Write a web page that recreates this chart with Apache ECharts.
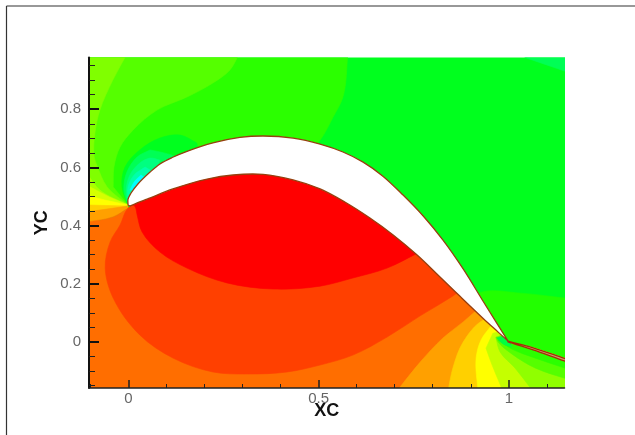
<!DOCTYPE html>
<html><head><meta charset="utf-8">
<style>html,body{margin:0;padding:0;background:#fff}#c{width:635px;height:435px}</style>
<script src="https://cdn.jsdelivr.net/npm/echarts@6/dist/echarts.min.js"></script>
</head><body><div id="c"></div>
<script>
const xLabels=[0,0.5,1];
const xMinor=[-0.1,0.1,0.2,0.3,0.4,0.6,0.7,0.8,0.9,1.1];
const yLabels=[0,0.2,0.4,0.6,0.8];
const yMinor=[-0.15,-0.1,-0.05,0.05,0.1,0.15,0.25,0.3,0.35,0.45,0.5,0.55,0.65,0.7,0.75,0.85,0.9,0.95];
const wakeUpper=[[0.998,0.003],[1.064,-0.020],[1.146,-0.056],[1.16,-0.062]];
const wakeClose=[[1.16,-0.071],[1.146,-0.065],[1.064,-0.027],[0.998,0]];
const airfoil=[[-0.001,0.471],[-0.001,0.491],[0.007,0.512],[0.025,0.543],[0.057,0.584],[0.083,0.612],[0.115,0.634],[0.154,0.655],[0.222,0.684],[0.293,0.703],[0.354,0.708],[0.433,0.701],[0.504,0.68],[0.564,0.653],[0.617,0.618],[0.669,0.57],[0.722,0.505],[0.775,0.433],[0.827,0.35],[0.88,0.251],[0.932,0.141],[0.998,0.003],[0.972,0.034],[0.932,0.082],[0.871,0.158],[0.811,0.234],[0.759,0.299],[0.696,0.368],[0.635,0.426],[0.569,0.481],[0.504,0.526],[0.433,0.557],[0.354,0.576],[0.275,0.574],[0.207,0.56],[0.117,0.526],[0.049,0.491],[0.023,0.478],[0.004,0.467]];
const base=[[-0.11,-0.17],[1.16,-0.17],[1.16,0.99],[-0.11,0.99]];
const cornerTR=[[1.042,0.99],[1.042,0.978],[1.1,0.952],[1.16,0.925],[1.16,0.99]];
const upperA=[[0.577,0.99],[0.564,0.842],[0.538,0.773],[0.504,0.694],[0.451,0.625],[0.188,0.608],[0.017,0.478],[-0.001,0.471],[-0.11,0.471],[-0.11,0.99]];
const upperB=[[0.291,0.99],[0.267,0.935],[0.222,0.89],[0.154,0.842],[0.075,0.797],[0.012,0.728],[-0.022,0.67],[-0.038,0.601],[-0.04,0.533],[-0.001,0.471],[-0.11,0.471],[-0.11,0.99]];
const upperC=[[-0.004,0.99],[-0.041,0.9],[-0.075,0.797],[-0.088,0.718],[-0.09,0.636],[-0.083,0.608],[-0.056,0.533],[-0.001,0.471],[-0.11,0.471],[-0.11,0.99]];
const dome1=[[-0.001,0.471],[-0.017,0.533],[-0.009,0.601],[0.03,0.66],[0.083,0.701],[0.136,0.711],[0.18,0.684],[0.188,0.625],[0.03,0.505]];
const dome2=[[-0.001,0.471],[-0.012,0.522],[-0.004,0.584],[0.023,0.636],[0.057,0.66],[0.096,0.649],[0.123,0.636],[0.136,0.608],[0.03,0.505]];
const dome3=[[-0.001,0.471],[-0.006,0.522],[0.004,0.574],[0.03,0.615],[0.057,0.632],[0.083,0.625],[0.03,0.505]];
const dome4=[[-0.001,0.488],[-0.001,0.533],[0.015,0.574],[0.044,0.601],[0.057,0.591],[0.017,0.505]];
const dome5=[[0.004,0.522],[0.015,0.55],[0.033,0.574],[0.044,0.564],[0.017,0.522]];
const fan1=[[-0.11,0.581],[-0.075,0.522],[-0.001,0.471],[-0.11,0.44]];
const fan2=[[-0.11,0.54],[-0.05,0.498],[-0.001,0.471],[-0.11,0.44]];
const fan3=[[-0.11,0.505],[-0.062,0.488],[-0.001,0.471],[-0.11,0.44]];
const fan4=[[-0.11,0.471],[-0.001,0.467],[-0.11,0.4]];
const fan5=[[-0.11,0.447],[-0.001,0.467],[-0.001,0.46],[-0.04,0.43],[-0.11,0.412]];
const orange=[[-0.11,0.412],[-0.04,0.43],[-0.001,0.46],[0.049,0.495],[0.207,0.575],[0.354,0.59],[0.504,0.54],[0.648,0.44],[0.759,0.32],[0.871,0.165],[0.932,0.09],[0.998,0.003],[0.998,-0.17],[-0.11,-0.17]];
const redOrange=[[-0.001,0.46],[-0.022,0.402],[-0.048,0.344],[-0.061,0.254],[-0.04,0.151],[0.03,0.024],[0.117,-0.055],[0.222,-0.103],[0.312,-0.11],[0.417,-0.103],[0.504,-0.079],[0.59,-0.045],[0.68,0.017],[0.767,0.09],[0.853,0.158],[0.871,0.175],[0.759,0.32],[0.504,0.54],[0.354,0.59],[0.207,0.575],[0.049,0.495]];
const red=[[0.018,0.464],[0.023,0.436],[0.036,0.378],[0.083,0.309],[0.154,0.254],[0.259,0.203],[0.38,0.182],[0.504,0.192],[0.59,0.22],[0.68,0.254],[0.761,0.306],[0.759,0.33],[0.504,0.54],[0.354,0.59],[0.207,0.575],[0.049,0.495],[0.01,0.475]];
const rightLower=[[0.9,0.15],[0.93,0.172],[1.03,0.168],[1.16,0.149],...wakeUpper.slice().reverse()];
const teA=[[0.705,-0.17],[0.767,-0.069],[0.827,0.014],[0.88,0.069],[0.916,0.11],[0.94,0.09],...wakeUpper,[1.16,-0.17]];
const teB=[[0.84,-0.17],[0.853,-0.089],[0.88,0],[0.932,0.075],[0.95,0.08],...wakeUpper,[1.16,-0.17]];
const teC=[[0.919,-0.17],[0.914,-0.055],[0.927,0.007],[0.953,0.055],[0.965,0.055],...wakeUpper,[1.16,-0.17]];
const teD=[[0.985,-0.17],[0.956,-0.079],[0.94,-0.021],[0.958,0.03],[0.975,0.035],...wakeUpper,[1.16,-0.17]];
const teE=[[1.064,-0.17],[1.016,-0.089],[0.977,-0.034],[0.966,0.014],[0.98,0.025],...wakeUpper,[1.16,-0.17]];
const teF=[[1.16,-0.13],[1.069,-0.089],[1.008,-0.041],[0.972,0],[0.966,0.017],[0.985,0.02],...wakeUpper];
const teG=[[1.16,-0.095],[1.069,-0.055],[1.008,-0.024],[0.972,0.007],[0.985,0.02],...wakeUpper];
const teH=[[0.969,0.014],[0.985,-0.007],[1.008,-0.017],[1.003,-0.003],[0.998,0.003],[0.985,0.02]];
const wake=[...wakeUpper,...wakeClose];

const layers=[
 [base,'#00ff1e'],[cornerTR,'#00ff55'],[upperA,'#2bff00'],[upperB,'#55ff00'],[upperC,'#80ff00'],
 [dome1,'#00ff1e'],[dome2,'#00ff55'],[dome3,'#00ff80'],[dome4,'#00ffaa'],[dome5,'#00ffff'],
 [fan1,'#aaff00'],[fan2,'#d5ff00'],[fan3,'#ffff00'],[fan4,'#ffd000'],[fan5,'#ffa000'],
 [orange,'#ff6e00'],[redOrange,'#ff4000'],[red,'#ff0000'],[rightLower,'#22ff00'],
 [teA,'#ffa000'],[teB,'#ffd000'],[teC,'#ffff00'],[teD,'#c5ff00'],[teE,'#90ff00'],[teF,'#55ff00'],[teG,'#2bff00'],[teH,'#00ff40']
];
// Smooth closed outline through the projected vertices; vertices that turn sharply stay corners.
function outline(pts){
 const n=pts.length,unit=(a,b)=>{const dx=b[0]-a[0],dy=b[1]-a[1],l=Math.hypot(dx,dy)||1;return [dx/l,dy/l,l];};
 const out=[],inn=[];
 for(let i=0;i<n;i++){
  const a=unit(pts[(i+n-1)%n],pts[i]),b=unit(pts[i],pts[(i+1)%n]);
  if(a[0]*b[0]+a[1]*b[1]<Math.cos(40*Math.PI/180)){inn[i]=a;out[i]=b;}
  else{const d=unit([0,0],[a[0]+b[0],a[1]+b[1]]);inn[i]=d;out[i]=d;}
 }
 let d='M'+pts[0][0].toFixed(2)+' '+pts[0][1].toFixed(2);
 for(let i=0;i<n;i++){
  const j=(i+1)%n,l=Math.hypot(pts[j][0]-pts[i][0],pts[j][1]-pts[i][1])/3;
  d+='C'+[pts[i][0]+out[i][0]*l,pts[i][1]+out[i][1]*l,pts[j][0]-inn[j][0]*l,pts[j][1]-inn[j][1]*l,pts[j][0],pts[j][1]].map(v=>v.toFixed(2)).join(' ');
 }
 return d+'Z';
}
const poly=(points,fill,stroke,w)=>({
 type:'custom',coordinateSystem:'cartesian2d',xAxisIndex:0,yAxisIndex:0,clip:true,silent:true,animation:false,
 data:points,dimensions:['x','y'],encode:{x:0,y:1},
 renderItem(params,api){
  if(params.dataIndex!==0)return null;
  return {type:'path',shape:{pathData:outline(points.map(p=>api.coord(p)))},
   style:{fill:fill,stroke:stroke||fill,lineWidth:w||0.6}};
 }
});
const series=layers.map(l=>poly(l[0],l[1]));
series.push(poly(wake,'#c9a070','#a62c08',1.2));
series.push(poly(airfoil,'#ffffff','#96400f',1.3));

const xMin=-0.1036,xMax=1.1464,yMin=-0.158,yMax=0.9777;
const labelFont={fontFamily:'Liberation Sans',fontSize:15,color:'#666'};
const nameFont={fontFamily:'Liberation Sans',fontSize:18,fontWeight:'bold',color:'#111'};
const chart=echarts.init(document.getElementById('c'),null,{renderer:'canvas'});
chart.setOption({
 animation:false,backgroundColor:'#fff',
 graphic:[
  {type:'line',shape:{x1:6.5,y1:6,x2:635,y2:6},style:{stroke:'#333',lineWidth:1.2}},
  {type:'line',shape:{x1:6.5,y1:6,x2:6.5,y2:435},style:{stroke:'#333',lineWidth:1.2}}
 ],
 grid:{left:89,right:70.5,top:57.5,bottom:47,containLabel:false},
 xAxis:[
  {type:'value',min:xMin,max:xMax,position:'bottom',z:10,name:'XC',nameLocation:'middle',nameGap:14,nameMoveOverlap:false,nameTextStyle:nameFont,
   splitLine:{show:false},axisLine:{show:true,onZero:false,lineStyle:{color:'#222',width:1.5}},
   axisTick:{show:true,inside:true,length:8,lineStyle:{color:'#222',width:1.5},customValues:xLabels},
   axisLabel:{show:true,margin:3,...labelFont,customValues:xLabels,formatter:v=>String(v)}},
  {type:'value',min:xMin,max:xMax,position:'bottom',z:10,
   splitLine:{show:false},axisLine:{show:false,onZero:false},
   axisTick:{show:true,inside:true,length:4,lineStyle:{color:'#222',width:1},customValues:xMinor},
   axisLabel:{show:false}}
 ],
 yAxis:[
  {type:'value',min:yMin,max:yMax,position:'left',z:10,name:'YC',nameLocation:'middle',nameGap:38,nameMoveOverlap:false,nameRotate:90,nameTextStyle:nameFont,
   splitLine:{show:false},axisLine:{show:true,onZero:false,lineStyle:{color:'#111',width:2}},
   axisTick:{show:true,inside:true,length:10,lineStyle:{color:'#111',width:2},customValues:yLabels},
   axisLabel:{show:true,margin:8,...labelFont,customValues:yLabels,formatter:v=>String(v)}},
  {type:'value',min:yMin,max:yMax,position:'left',z:10,
   splitLine:{show:false},axisLine:{show:false,onZero:false},
   axisTick:{show:true,inside:true,length:6,lineStyle:{color:'#222',width:1},customValues:yMinor},
   axisLabel:{show:false}}
 ],
 series:series
});
</script></body></html>
